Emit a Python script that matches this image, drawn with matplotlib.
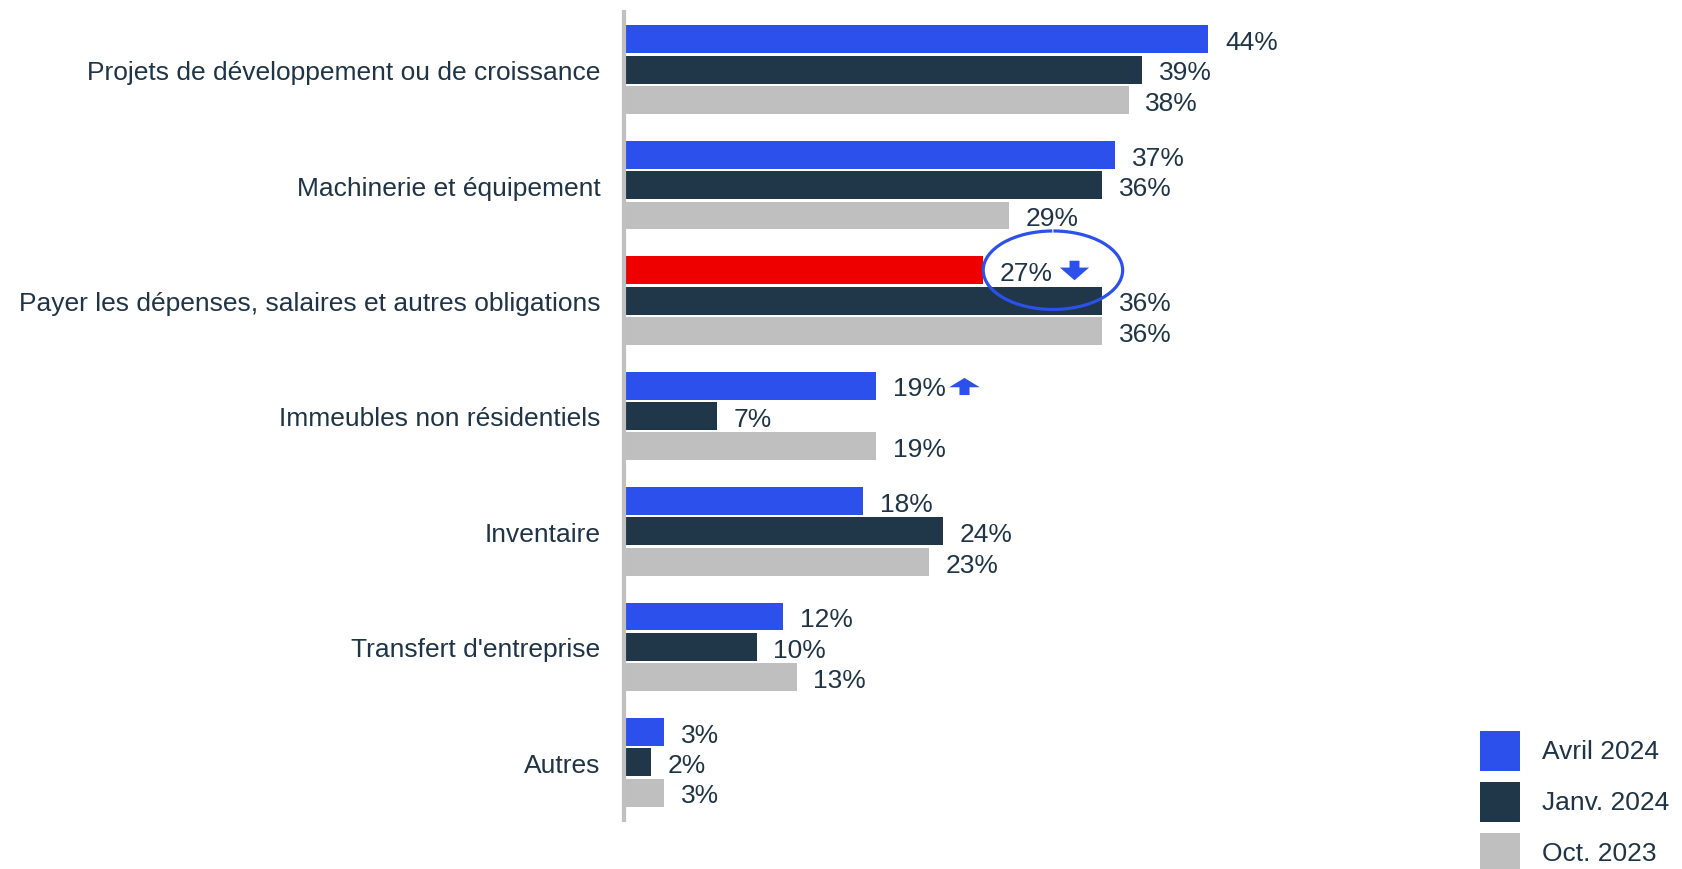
import matplotlib.pyplot as plt
import numpy as np
from matplotlib.patches import Arc, Rectangle
from matplotlib.path import Path

plt.rcParams['font.family'] = ['Liberation Sans', 'DejaVu Sans']

# Survey categories and the share of firms per period (%)
categories = [
    "Projets de développement ou de croissance",
    "Machinerie et équipement",
    "Payer les dépenses, salaires et autres obligations",
    "Immeubles non résidentiels",
    "Inventaire",
    "Transfert d'entreprise",
    "Autres",
]
series_names = ["Avril 2024", "Janv. 2024", "Oct. 2023"]
avril_2024 = [44, 37, 27, 19, 18, 12, 3]
janv_2024 = [39, 36, 36, 7, 24, 10, 2]
oct_2023 = [38, 29, 36, 19, 23, 13, 3]

BLUE = "#2B50EC"
NAVY = "#203649"
GREY = "#BFBFBF"
RED = "#EE0000"
TEXT = "#1F3447"
FS = 19

W, H = 1682, 870
fig = plt.figure(figsize=(W / 100, H / 100), dpi=100)
ax = fig.add_axes([624 / W, 49 / H, 836 / W, 808 / H])

y = np.arange(len(categories))
step = 0.263
bh = 0.242

colors_avril = [BLUE] * len(avril_2024)
colors_avril[2] = RED  # highlighted drop
series = [(avril_2024, colors_avril), (janv_2024, NAVY), (oct_2023, GREY)]
legend_colors = [BLUE, NAVY, GREY]

for k, (vals, col) in enumerate(series):
    pos = y + (k - 1) * step
    ax.barh(pos, vals, height=bh, color=col)
    for p, v in zip(pos, vals):
        ax.annotate(f"{v}%", (v, p), xytext=(12, -2), textcoords="offset points",
                    va="center", ha="left", fontsize=FS, color=TEXT)

ax.set_xlim(0, 836 / 13.28)
ax.set_ylim(len(categories) - 0.5, -0.5)
ax.set_yticks(y)
ax.set_yticklabels(categories, fontsize=FS, color=TEXT)
ax.tick_params(axis="y", length=0, pad=17)
ax.set_xticks([])
for s in ["top", "right", "bottom"]:
    ax.spines[s].set_visible(False)
ax.spines["left"].set_color("#C0C0C0")
ax.spines["left"].set_linewidth(3)

# Circle around the drop in the highlighted bar
row = 2 - step
ax.add_patch(Arc((avril_2024[2] + 5.3, row), 10.5, 0.68, theta1=276, theta2=262,
                 color=BLUE, lw=2.3, clip_on=False))

# Arrow markers showing direction of change
down = Path([(-0.34, 0.67), (0.34, 0.67), (0.34, 0.2), (1, 0.2), (0, -0.67),
             (-1, 0.2), (-0.34, 0.2), (-0.34, 0.67)], closed=True)
up = Path([(0, 0.56), (1, -0.05), (0.33, -0.05), (0.33, -0.56), (-0.33, -0.56),
           (-0.33, -0.05), (-1, -0.05), (0, 0.56)], closed=True)
ax.plot(avril_2024[2] + 6.9, row, marker=down, markersize=21, color=BLUE,
        markeredgewidth=0, clip_on=False)
ax.plot(avril_2024[3] + 6.6, 3 - step, marker=up, markersize=22, color=BLUE,
        markeredgewidth=0, clip_on=False)

# Legend: square swatches stacked in the lower right corner
for i, (name, col) in enumerate(zip(series_names, legend_colors)):
    top = 732 + i * 51
    fig.add_artist(Rectangle((1480 / W, 1 - (top + 40) / H), 40 / W, 40 / H,
                             transform=fig.transFigure, color=col, lw=0))
    fig.text(1542 / W, 1 - (top + 20) / H, name, fontsize=FS, color=TEXT,
             va="center", ha="left")

fig.savefig("out.png", dpi=100)
